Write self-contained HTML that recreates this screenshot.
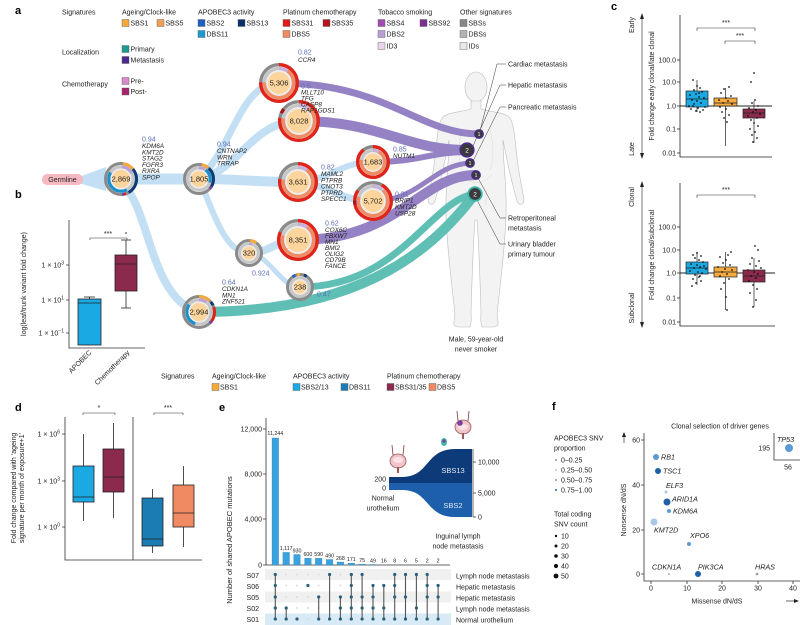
<!DOCTYPE html>
<html><head><meta charset="utf-8"><style>
html,body{margin:0;padding:0;background:#fff;}
svg{display:block;font-family:"Liberation Sans",sans-serif;}
.t{font-size:7px;fill:#222;}
.g{font-size:6.4px;fill:#222;font-style:italic;}
.v{font-size:7px;fill:#5b6cb8;}
.n{font-size:7.5px;fill:#222;}
.b{font-size:11px;font-weight:bold;fill:#000;}
.sw{stroke:#555;stroke-width:0.4;}
</style></head><body>
<svg width="800" height="625" viewBox="0 0 800 625" xmlns="http://www.w3.org/2000/svg">
<rect width="800" height="625" fill="#fff"/>

<!-- ===== Panel a legend ===== -->
<text class="b" x="15" y="14">a</text>
<text class="t" x="62" y="14.5">Signatures</text>
<text class="t" x="122" y="14.5">Ageing/Clock-like</text>
<rect class="sw" x="122" y="19.5" width="7" height="7" fill="#f7a83b"/><text class="t" x="130.5" y="25.5">SBS1</text>
<rect class="sw" x="157" y="19.5" width="7" height="7" fill="#ef9f59"/><text class="t" x="165.5" y="25.5">SBS5</text>
<text class="t" x="198" y="14.5">APOBEC3 activity</text>
<rect class="sw" x="198" y="19.5" width="7" height="7" fill="#1f5fbf"/><text class="t" x="206.5" y="25.5">SBS2</text>
<rect class="sw" x="238" y="19.5" width="7" height="7" fill="#0b2f6b"/><text class="t" x="246.5" y="25.5">SBS13</text>
<rect class="sw" x="198" y="30.5" width="7" height="7" fill="#1d9bd1"/><text class="t" x="206.5" y="36.5">DBS11</text>
<text class="t" x="283" y="14.5">Platinum chemotherapy</text>
<rect class="sw" x="283" y="19.5" width="7" height="7" fill="#e31a1c"/><text class="t" x="291.5" y="25.5">SBS31</text>
<rect class="sw" x="323" y="19.5" width="7" height="7" fill="#b5151f"/><text class="t" x="331.5" y="25.5">SBS35</text>
<rect class="sw" x="283" y="30.5" width="7" height="7" fill="#f08a62"/><text class="t" x="291.5" y="36.5">DBS5</text>
<text class="t" x="378" y="14.5">Tobacco smoking</text>
<rect class="sw" x="378" y="19.5" width="7" height="7" fill="#a24bb0"/><text class="t" x="386.5" y="25.5">SBS4</text>
<rect class="sw" x="420" y="19.5" width="7" height="7" fill="#7b2f8e"/><text class="t" x="428.5" y="25.5">SBS92</text>
<rect class="sw" x="378" y="30.5" width="7" height="7" fill="#b9a0d2"/><text class="t" x="386.5" y="36.5">DBS2</text>
<rect class="sw" x="378" y="42.5" width="7" height="7" fill="#ead6ea"/><text class="t" x="386.5" y="48.5">ID3</text>
<text class="t" x="460" y="14.5">Other signatures</text>
<rect class="sw" x="460" y="19.5" width="7" height="7" fill="#888"/><text class="t" x="468.5" y="25.5">SBSs</text>
<rect class="sw" x="460" y="30.5" width="7" height="7" fill="#b3b3b3"/><text class="t" x="468.5" y="36.5">DBSs</text>
<rect class="sw" x="460" y="42.5" width="7" height="7" fill="#e8e8e8"/><text class="t" x="468.5" y="48.5">IDs</text>
<text class="t" x="62" y="54.5">Localization</text>
<rect class="sw" x="122" y="45.5" width="7" height="7" fill="#1e9a8f"/><text class="t" x="130.5" y="51.5">Primary</text>
<rect class="sw" x="122" y="56.5" width="7" height="7" fill="#4b2a8a"/><text class="t" x="130.5" y="62.5">Metastasis</text>
<text class="t" x="62" y="86.5">Chemotherapy</text>
<rect class="sw" x="122" y="77.5" width="7" height="7" fill="#d68ac8"/><text class="t" x="130.5" y="83.5">Pre-</text>
<rect class="sw" x="122" y="88" width="7" height="7" fill="#a8246a"/><text class="t" x="130.5" y="94">Post-</text>

<!-- ===== Body silhouette ===== -->
<g fill="#f3f3f3" stroke="#bdbdbd" stroke-width="0.6">
<ellipse cx="476" cy="87" rx="11" ry="15"/>
<path d="M471,101 L471,109 C462,112 447,112 442,118 C437,126 437,145 434,165 C432,180 429,192 428,200 C428,205 433,206 435,201 C438,190 442,175 445,160 C447,150 448,145 449,140 C449,165 445,185 446,215 C447,250 452,285 455,315 C454,322 452,326 458,327 L470,327 C472,322 471,316 471,312 C472,280 473,245 475,220 L477,220 C479,245 480,280 481,312 C481,316 480,322 482,327 L494,327 C500,326 498,322 497,315 C500,285 505,250 506,215 C507,185 503,165 503,140 C504,145 505,150 507,160 C510,175 514,190 517,201 C519,206 524,205 524,200 C523,192 520,180 518,165 C515,145 515,126 510,118 C505,112 490,112 481,109 L481,101 Z"/>
</g>
<g fill="none" stroke="#d2d2d2" stroke-width="0.4">
<path d="M462,130 C458,145 458,160 462,170 M490,130 C494,145 494,160 490,170 M460,175 C470,185 482,185 492,175 M466,190 L466,205 M486,190 L486,205"/>
</g>

<!-- ===== Tree branches (light blue) ===== -->
<g fill="none" stroke="#c3dff3" stroke-linecap="butt">
<polygon points="80,176.5 80,183.5 106,191 106,167" fill="#c3dff3" stroke="none"/>
<path d="M121,179 L199,179" stroke-width="11"/>
<path d="M126,188 C150,215 152,300 199,312" stroke-width="8"/>
<path d="M199,179 C232,150 240,83 279,83" stroke-width="7"/>
<path d="M199,179 C240,170 252,121 299,121" stroke-width="8"/>
<path d="M199,179 C240,179 252,182 298,182" stroke-width="10"/>
<path d="M199,179 C215,215 225,253 249,253" stroke-width="6"/>
<path d="M298,182 C330,180 340,162 373,162" stroke-width="6"/>
<path d="M298,182 C330,185 340,201 373,201" stroke-width="7"/>
<path d="M249,253 C270,253 275,240 298,240" stroke-width="8"/>
<path d="M249,253 C270,255 280,287 300,287" stroke-width="5"/>
</g>

<!-- ===== Purple / teal bands ===== -->
<g fill="none" stroke-linecap="butt">
<path d="M279,83 C385,83 420,134 479,134" stroke="#9582c4" stroke-width="7"/>
<path d="M299,121 C380,121 405,150 467,150" stroke="#9582c4" stroke-width="10"/>
<path d="M373,162 C420,162 430,152 467,152" stroke="#9582c4" stroke-width="6"/>
<path d="M373,201 C420,201 432,165 470,163" stroke="#9582c4" stroke-width="5"/>
<path d="M298,240 C400,240 420,175 476,175" stroke="#9582c4" stroke-width="10"/>
<path d="M300,287 C400,287 430,200 475,194" stroke="#5fbfb5" stroke-width="7"/>
<path d="M199,312 C350,312 425,260 475,194" stroke="#5fbfb5" stroke-width="10"/>
</g>

<!-- Germline -->
<rect x="42" y="174" width="41" height="11" rx="5.5" fill="#f5b9c1"/>
<text class="t" x="62.5" y="182" text-anchor="middle">Germline</text>

<!-- ===== Donuts ===== -->
<!-- 2,869 -->
<g transform="translate(121,179) rotate(-90)" fill="none">
<circle r="15.5" stroke="#8a8a8a" stroke-width="3"/>
<circle r="15.5" stroke="#f5a93c" stroke-width="3" pathLength="100" stroke-dasharray="12 100" stroke-dashoffset="-2"/>
<circle r="15.5" stroke="#0e3a75" stroke-width="3" pathLength="100" stroke-dasharray="28 100" stroke-dashoffset="-14"/>
<circle r="15.5" stroke="#e2231a" stroke-width="3" pathLength="100" stroke-dasharray="2 100" stroke-dashoffset="-45"/>
<circle r="15.5" stroke="#7b3f9e" stroke-width="3" pathLength="100" stroke-dasharray="2 100" stroke-dashoffset="-47"/>
<circle r="12.2" stroke="#c6c6c6" stroke-width="3.2"/>
<circle r="12.2" stroke="#b9a1d3" stroke-width="3.2" pathLength="100" stroke-dasharray="16 100" stroke-dashoffset="-1"/>
<circle r="12.2" stroke="#1e90c9" stroke-width="3.2" pathLength="100" stroke-dasharray="42 100" stroke-dashoffset="-42"/>
<circle r="10.5" fill="#ececec" stroke="none"/>
<circle r="9" fill="#fdd59c" stroke="none"/>
</g>
<text class="n" x="121" y="181.7" text-anchor="middle">2,869</text>
<!-- 1,805 -->
<g transform="translate(199,179) rotate(-90)" fill="none">
<circle r="14.5" stroke="#8a8a8a" stroke-width="3"/>
<circle r="14.5" stroke="#f5a93c" stroke-width="3" pathLength="100" stroke-dasharray="8 100" stroke-dashoffset="-3"/>
<circle r="14.5" stroke="#0e3a75" stroke-width="3" pathLength="100" stroke-dasharray="22 100" stroke-dashoffset="-12"/>
<circle r="14.5" stroke="#7b3f9e" stroke-width="3" pathLength="100" stroke-dasharray="3 100" stroke-dashoffset="-34"/>
<circle r="11.2" stroke="#c6c6c6" stroke-width="3.2"/>
<circle r="11.2" stroke="#b9a1d3" stroke-width="3.2" pathLength="100" stroke-dasharray="8 100" stroke-dashoffset="0"/>
<circle r="11.2" stroke="#1e90c9" stroke-width="3.2" pathLength="100" stroke-dasharray="20 100" stroke-dashoffset="-10"/>
<circle r="9.5" fill="#ececec" stroke="none"/>
<circle r="8" fill="#fdd59c" stroke="none"/>
</g>
<text class="n" x="199" y="181.7" text-anchor="middle">1,805</text>
<!-- 2,994 -->
<g transform="translate(199,312) rotate(-90)" fill="none">
<circle r="15.5" stroke="#8a8a8a" stroke-width="3"/>
<circle r="15.5" stroke="#f5a93c" stroke-width="3" pathLength="100" stroke-dasharray="12 100" stroke-dashoffset="0"/>
<circle r="15.5" stroke="#0e3a75" stroke-width="3" pathLength="100" stroke-dasharray="4 100" stroke-dashoffset="-14"/>
<circle r="15.5" stroke="#e2231a" stroke-width="3" pathLength="100" stroke-dasharray="15 100" stroke-dashoffset="-20"/>
<circle r="15.5" stroke="#7b3f9e" stroke-width="3" pathLength="100" stroke-dasharray="3 100" stroke-dashoffset="-35"/>
<circle r="12.2" stroke="#c6c6c6" stroke-width="3.2"/>
<circle r="12.2" stroke="#b9a1d3" stroke-width="3.2" pathLength="100" stroke-dasharray="10 100" stroke-dashoffset="0"/>
<circle r="12.2" stroke="#1e90c9" stroke-width="3.2" pathLength="100" stroke-dasharray="30 100" stroke-dashoffset="-55"/>
<circle r="10.5" fill="#ececec" stroke="none"/>
<circle r="9" fill="#fdd59c" stroke="none"/>
</g>
<text class="n" x="199" y="314.7" text-anchor="middle">2,994</text>
<!-- 320 -->
<g transform="translate(249,253) rotate(-90)" fill="none">
<circle r="12.5" stroke="#8a8a8a" stroke-width="3"/>
<circle r="12.5" stroke="#f5a93c" stroke-width="3" pathLength="100" stroke-dasharray="9 100" stroke-dashoffset="-1"/>
<circle r="9.3" stroke="#c6c6c6" stroke-width="3"/>
<circle r="9.3" stroke="#b9a1d3" stroke-width="3" pathLength="100" stroke-dasharray="5 100" stroke-dashoffset="0"/>
<circle r="7.8" fill="#ececec" stroke="none"/>
<circle r="6.5" fill="#fdd59c" stroke="none"/>
</g>
<text class="n" x="249" y="255.7" text-anchor="middle">320</text>
<!-- 238 -->
<g transform="translate(300,287) rotate(-90)" fill="none">
<circle r="12.5" stroke="#8a8a8a" stroke-width="3"/>
<circle r="12.5" stroke="#1f5fbf" stroke-width="3" pathLength="100" stroke-dasharray="4 100" stroke-dashoffset="-90"/>
<circle r="12.5" stroke="#f5a93c" stroke-width="3" pathLength="100" stroke-dasharray="5 100" stroke-dashoffset="-96"/>
<circle r="12.5" stroke="#0e3a75" stroke-width="3" pathLength="100" stroke-dasharray="4 100" stroke-dashoffset="-5"/>
<circle r="9.3" stroke="#c6c6c6" stroke-width="3"/>
<circle r="7.8" fill="#ececec" stroke="none"/>
<circle r="6.5" fill="#fdd59c" stroke="none"/>
</g>
<text class="n" x="300" y="289.7" text-anchor="middle">238</text>

<!-- red nodes -->
<g fill="none">
<g transform="translate(279,83) rotate(-90)">
<circle r="18.3" stroke="#8a8a8a" stroke-width="3.4"/>
<circle r="18.3" stroke="#e2231a" stroke-width="3.4" pathLength="100" stroke-dasharray="76 100" stroke-dashoffset="0"/>
<circle r="14.6" stroke="#c6c6c6" stroke-width="3.4"/>
<circle r="14.6" stroke="#c7b0dc" stroke-width="3.4" pathLength="100" stroke-dasharray="10 100"/>
<circle r="14.6" stroke="#ef8c63" stroke-width="3.4" pathLength="100" stroke-dasharray="66 100" stroke-dashoffset="-10"/>
<circle r="12.8" fill="#ececec" stroke="none"/><circle r="11" fill="#fdd59c" stroke="none"/>
</g>
<g transform="translate(299,121) rotate(-90)">
<circle r="19.3" stroke="#8a8a8a" stroke-width="3.4"/>
<circle r="19.3" stroke="#e2231a" stroke-width="3.4" pathLength="100" stroke-dasharray="78 100" stroke-dashoffset="0"/>
<circle r="19.3" stroke="#a8121c" stroke-width="3.4" pathLength="100" stroke-dasharray="4 100" stroke-dashoffset="-82"/>
<circle r="15.6" stroke="#c6c6c6" stroke-width="3.4"/>
<circle r="15.6" stroke="#c7b0dc" stroke-width="3.4" pathLength="100" stroke-dasharray="10 100"/>
<circle r="15.6" stroke="#ef8c63" stroke-width="3.4" pathLength="100" stroke-dasharray="68 100" stroke-dashoffset="-10"/>
<circle r="13.8" fill="#ececec" stroke="none"/><circle r="12" fill="#fdd59c" stroke="none"/>
</g>
<g transform="translate(298,182) rotate(-90)">
<circle r="18.3" stroke="#8a8a8a" stroke-width="3.4"/>
<circle r="18.3" stroke="#e2231a" stroke-width="3.4" pathLength="100" stroke-dasharray="78 100" stroke-dashoffset="0"/>
<circle r="14.6" stroke="#c6c6c6" stroke-width="3.4"/>
<circle r="14.6" stroke="#c7b0dc" stroke-width="3.4" pathLength="100" stroke-dasharray="10 100"/>
<circle r="14.6" stroke="#ef8c63" stroke-width="3.4" pathLength="100" stroke-dasharray="68 100" stroke-dashoffset="-10"/>
<circle r="12.8" fill="#ececec" stroke="none"/><circle r="11" fill="#fdd59c" stroke="none"/>
</g>
<g transform="translate(373,162) rotate(-90)">
<circle r="15.3" stroke="#8a8a8a" stroke-width="3.4"/>
<circle r="15.3" stroke="#e2231a" stroke-width="3.4" pathLength="100" stroke-dasharray="90 100" stroke-dashoffset="0"/>
<circle r="11.6" stroke="#c6c6c6" stroke-width="3.4"/>
<circle r="11.6" stroke="#c7b0dc" stroke-width="3.4" pathLength="100" stroke-dasharray="8 100"/>
<circle r="11.6" stroke="#ef8c63" stroke-width="3.4" pathLength="100" stroke-dasharray="70 100" stroke-dashoffset="-8"/>
<circle r="9.8" fill="#ececec" stroke="none"/><circle r="8.5" fill="#fdd59c" stroke="none"/>
</g>
<g transform="translate(373,201) rotate(-90)">
<circle r="18.3" stroke="#8a8a8a" stroke-width="3.4"/>
<circle r="18.3" stroke="#e2231a" stroke-width="3.4" pathLength="100" stroke-dasharray="64 100" stroke-dashoffset="-8"/>
<circle r="18.3" stroke="#a8121c" stroke-width="3.4" pathLength="100" stroke-dasharray="4 100" stroke-dashoffset="-72"/>
<circle r="18.3" stroke="#e2231a" stroke-width="3.4" pathLength="100" stroke-dasharray="9 100" stroke-dashoffset="-76"/>
<circle r="14.6" stroke="#c6c6c6" stroke-width="3.4"/>
<circle r="14.6" stroke="#c7b0dc" stroke-width="3.4" pathLength="100" stroke-dasharray="10 100"/>
<circle r="14.6" stroke="#ef8c63" stroke-width="3.4" pathLength="100" stroke-dasharray="68 100" stroke-dashoffset="-12"/>
<circle r="12.8" fill="#ececec" stroke="none"/><circle r="11" fill="#fdd59c" stroke="none"/>
</g>
<g transform="translate(298,240) rotate(-90)">
<circle r="19.3" stroke="#8a8a8a" stroke-width="3.4"/>
<circle r="19.3" stroke="#e2231a" stroke-width="3.4" pathLength="100" stroke-dasharray="82 100" stroke-dashoffset="0"/>
<circle r="15.6" stroke="#c6c6c6" stroke-width="3.4"/>
<circle r="15.6" stroke="#c7b0dc" stroke-width="3.4" pathLength="100" stroke-dasharray="10 100"/>
<circle r="15.6" stroke="#ef8c63" stroke-width="3.4" pathLength="100" stroke-dasharray="70 100" stroke-dashoffset="-10"/>
<circle r="13.8" fill="#ececec" stroke="none"/><circle r="12" fill="#fdd59c" stroke="none"/>
</g>
</g>
<text class="n" x="279" y="85.7" text-anchor="middle">5,306</text>
<text class="n" x="299" y="123.7" text-anchor="middle">8,028</text>
<text class="n" x="298" y="184.7" text-anchor="middle">3,631</text>
<text class="n" x="373" y="164.7" text-anchor="middle">1,683</text>
<text class="n" x="373" y="203.7" text-anchor="middle">5,702</text>
<text class="n" x="298" y="242.7" text-anchor="middle">8,351</text>

<!-- gene labels -->
<text class="v" x="142" y="141.5">0.94</text>
<text class="g" x="142" y="148">KDM6A</text><text class="g" x="142" y="154.3">KMT2D</text><text class="g" x="142" y="160.6">STAG2</text><text class="g" x="142" y="166.9">FGFR3</text><text class="g" x="142" y="173.2">RXRA</text><text class="g" x="142" y="179.5">SPOP</text>
<text class="v" x="217" y="146.5">0.94</text>
<text class="g" x="217" y="153">CNTNAP2</text><text class="g" x="217" y="159.3">WRN</text><text class="g" x="217" y="165.6">TRRAP</text>
<text class="v" x="298" y="54.5">0.82</text><text class="g" x="298" y="62">CCR4</text>
<text class="v" x="301" y="88.5">0.5</text>
<text class="g" x="301" y="94.5">MLLT10</text><text class="g" x="301" y="100.5">TFG</text><text class="g" x="301" y="106.5">CASP8</text><text class="g" x="301" y="112.5">RAP1GDS1</text>
<text class="v" x="321" y="169.5">0.82</text>
<text class="g" x="321" y="176">MAML2</text><text class="g" x="321" y="182.3">PTPRB</text><text class="g" x="321" y="188.6">CNOT3</text><text class="g" x="321" y="194.9">PTPRD</text><text class="g" x="321" y="201.2">SPECC1</text>
<text class="v" x="393" y="151.5">0.85</text><text class="g" x="393" y="158">NUTM1</text>
<text class="v" x="395" y="196.5">0.31</text>
<text class="g" x="395" y="202.5">BRIP1</text><text class="g" x="395" y="209">KMT2D</text><text class="g" x="395" y="215.5">USP28</text>
<text class="v" x="325" y="225.5">0.62</text>
<text class="g" x="325" y="232">COX6C</text><text class="g" x="325" y="238">FBXW7</text><text class="g" x="325" y="244">MN1</text><text class="g" x="325" y="250">BMI2</text><text class="g" x="325" y="256">OLIG2</text><text class="g" x="325" y="262">CD79B</text><text class="g" x="325" y="268">FANCE</text>
<text class="v" x="252" y="275.5">0.924</text>
<text class="v" x="317" y="296.5">0.47</text>
<text class="v" x="222" y="284.5">0.64</text>
<text class="g" x="222" y="291">CDKN1A</text><text class="g" x="222" y="297.3">MN1</text><text class="g" x="222" y="303.6">ZNF521</text>

<!-- body dots & connectors -->
<g fill="none" stroke="#333" stroke-width="0.5">
<path d="M506,64 L497,64 L480,131"/>
<path d="M506,85 L500,85 L473,146"/>
<path d="M506,107 L500,107 L473,161"/>
<path d="M506,218 L500,218 L478,178"/>
<path d="M506,244 L500,244 L477,200"/>
</g>
<g>
<circle cx="479" cy="134" r="4.2" fill="#3a3a3a" stroke="#4b2a8a" stroke-width="1.4"/>
<circle cx="467" cy="150" r="6.8" fill="#3a3a3a" stroke="#4b2a8a" stroke-width="1.6"/>
<circle cx="470" cy="163" r="4.2" fill="#3a3a3a" stroke="#4b2a8a" stroke-width="1.4"/>
<circle cx="476" cy="175" r="4.2" fill="#3a3a3a" stroke="#4b2a8a" stroke-width="1.4"/>
<circle cx="475" cy="194" r="6.8" fill="#3a3a3a" stroke="#3cb5aa" stroke-width="1.8"/>
</g>
<g font-size="5" fill="#fff" text-anchor="middle">
<text x="479" y="135.8">1</text><text x="467" y="152.3" font-size="6.5">2</text><text x="470" y="164.8">1</text><text x="476" y="176.8">1</text><text x="475" y="196.3" font-size="6.5">2</text>
</g>
<text class="t" x="508" y="66.5">Cardiac metastasis</text>
<text class="t" x="508" y="87.5">Hepatic metastasis</text>
<text class="t" x="508" y="109.5">Pancreatic metastasis</text>
<text class="t" x="508" y="220.5">Retroperitoneal</text>
<text class="t" x="508" y="230.5">metastasis</text>
<text class="t" x="508" y="246.5">Urinary bladder</text>
<text class="t" x="508" y="256.5">primary tumour</text>
<text class="t" x="476" y="341.5" text-anchor="middle">Male, 59-year-old</text>
<text class="t" x="476" y="351.5" text-anchor="middle">never smoker</text>

<!-- ===== Panel b ===== -->
<text class="b" x="15" y="198">b</text>
<g stroke="#333" stroke-width="0.8" fill="none">
<path d="M69,220 L69,348 L145,348"/>
<path d="M66,265 L69,265 M66,300 L69,300 M66,333 L69,333"/>
</g>
<text class="t" x="64" y="267.5" text-anchor="end">1 × 10<tspan font-size="5" dy="-3">3</tspan></text>
<text class="t" x="64" y="302.5" text-anchor="end">1 × 10<tspan font-size="5" dy="-3">1</tspan></text>
<text class="t" x="64" y="335.5" text-anchor="end">1 × 10<tspan font-size="5" dy="-3">−1</tspan></text>
<text class="t" transform="translate(26,284) rotate(-90)" text-anchor="middle">log(leaf/trunk variant fold change)</text>
<g stroke="#222" stroke-width="0.8">
<rect x="78" y="299" width="23" height="46" fill="#1ba9e3"/>
<line x1="78" y1="303" x2="101" y2="303"/>
<line x1="89.5" y1="297" x2="89.5" y2="299"/>
<line x1="84" y1="297" x2="95" y2="297"/>
<line x1="126" y1="240" x2="126" y2="255"/><line x1="121" y1="240" x2="131" y2="240"/>
<line x1="126" y1="291" x2="126" y2="308"/><line x1="121" y1="308" x2="131" y2="308"/>
<rect x="115" y="255" width="22" height="36" fill="#8c2a4e"/>
<line x1="115" y1="264" x2="137" y2="264"/>
</g>
<circle cx="126" cy="233" r="0.8" fill="#222"/>
<path d="M90,240 L90,238 L127,238 L127,240" fill="none" stroke="#333" stroke-width="0.6"/>
<text class="t" x="108" y="236" text-anchor="middle">***</text>
<text class="t" transform="translate(92,353) rotate(-45)" text-anchor="end">APOBEC</text>
<text class="t" transform="translate(130,353) rotate(-45)" text-anchor="end">Chemotherapy</text>

<!-- middle legend -->
<text class="t" x="161" y="378.5">Signatures</text>
<text class="t" x="212" y="378.5">Ageing/Clock-like</text>
<rect class="sw" x="212" y="383.5" width="7" height="7" fill="#f7a83b"/><text class="t" x="220" y="389.5">SBS1</text>
<text class="t" x="293" y="378.5">APOBEC3 activity</text>
<rect class="sw" x="293" y="383.5" width="7" height="7" fill="#1ba9e3"/><text class="t" x="301" y="389.5">SBS2/13</text>
<rect class="sw" x="341" y="383.5" width="7" height="7" fill="#1b7bb3"/><text class="t" x="349" y="389.5">DBS11</text>
<text class="t" x="387" y="378.5">Platinum chemotherapy</text>
<rect class="sw" x="387" y="383.5" width="7" height="7" fill="#8c2a4e"/><text class="t" x="395" y="389.5">SBS31/35</text>
<rect class="sw" x="429" y="383.5" width="7" height="7" fill="#f08a62"/><text class="t" x="437" y="389.5">DBS5</text>

<!-- ===== Panel c ===== -->
<text class="b" x="611" y="10">c</text>
<g stroke="#222" stroke-width="0.8" fill="none">
<path d="M680,15 L680,157 L772,157"/>
<path d="M677,60 L680,60 M677,82 L680,82 M677,106 L680,106 M677,129 L680,129 M677,153 L680,153"/>
<path d="M680,106 L772,106" stroke-width="0.9"/>
<path d="M680,183 L680,326 L775,326"/>
<path d="M677,227 L680,227 M677,250 L680,250 M677,273 L680,273 M677,298 L680,298 M677,322 L680,322"/>
<path d="M680,273 L775,273" stroke-width="0.9"/>
<path d="M642,18 L642,154 M642,186 L642,323" stroke-width="0.6"/>
</g>
<path d="M642,13 L640,19 L644,19 Z M642,159 L640,153 L644,153 Z M642,181 L640,187 L644,187 Z M642,328 L640,322 L644,322 Z" fill="#222"/>
<g class="t" text-anchor="end">
<text x="676" y="62.5">100.0</text><text x="676" y="84.5">10.0</text><text x="676" y="108.5">1.0</text><text x="676" y="131.5">0.1</text><text x="676" y="155.5">0.01</text>
<text x="676" y="229.5">100.0</text><text x="676" y="252.5">10.0</text><text x="676" y="275.5">1.0</text><text x="676" y="300.5">0.1</text><text x="676" y="324.5">0.01</text>
</g>
<text class="t" transform="translate(654,86) rotate(-90)" text-anchor="middle">Fold change early clonal/late clonal</text>
<text class="t" transform="translate(654,255) rotate(-90)" text-anchor="middle">Fold change clonal/subclonal</text>
<text class="t" transform="translate(634,25) rotate(-90)" text-anchor="middle">Early</text>
<text class="t" transform="translate(634,149) rotate(-90)" text-anchor="middle">Late</text>
<text class="t" transform="translate(634,197) rotate(-90)" text-anchor="middle">Clonal</text>
<text class="t" transform="translate(634,308) rotate(-90)" text-anchor="middle">Subclonal</text>
<g stroke="#222" stroke-width="0.7">
<line x1="697" y1="80" x2="697" y2="91"/><line x1="697" y1="107" x2="697" y2="112"/>
<rect x="686" y="91" width="22" height="16" fill="#1ba9e3"/><line x1="686" y1="99" x2="708" y2="99"/>
<line x1="725.5" y1="88" x2="725.5" y2="98"/><line x1="725.5" y1="106" x2="725.5" y2="146"/>
<rect x="714" y="98" width="23" height="8" fill="#f5ab3e"/><line x1="714" y1="103" x2="737" y2="103"/>
<line x1="754" y1="101" x2="754" y2="109"/><line x1="754" y1="118" x2="754" y2="143"/>
<rect x="743" y="109" width="22" height="9" fill="#8c2a4e"/><line x1="743" y1="113" x2="765" y2="113"/>
<line x1="697" y1="252" x2="697" y2="262"/><line x1="697" y1="274" x2="697" y2="285"/>
<rect x="686" y="262" width="22" height="12" fill="#1ba9e3"/><line x1="686" y1="268" x2="708" y2="268"/>
<line x1="725.5" y1="252" x2="725.5" y2="267"/><line x1="725.5" y1="277" x2="725.5" y2="310"/>
<rect x="714" y="267" width="23" height="10" fill="#f5ab3e"/><line x1="714" y1="272" x2="737" y2="272"/>
<line x1="754" y1="258" x2="754" y2="270"/><line x1="754" y1="282" x2="754" y2="307"/>
<rect x="743" y="270" width="22" height="12" fill="#8c2a4e"/><line x1="743" y1="276" x2="765" y2="276"/>
</g>
<g fill="none" stroke="#333" stroke-width="0.6">
<path d="M697,31 L697,28 L755,28 L755,31"/>
<path d="M725,44 L725,41 L755,41 L755,44"/>
<path d="M697,198 L697,195 L755,195 L755,198"/>
</g>
<text class="t" x="726" y="25" text-anchor="middle">***</text>
<text class="t" x="740" y="38" text-anchor="middle">***</text>
<text class="t" x="726" y="192" text-anchor="middle">***</text>
<g fill="#111">
<circle cx="693" cy="80" r="0.9"/><circle cx="697" cy="86" r="0.9"/><circle cx="700" cy="88" r="0.9"/><circle cx="694" cy="90" r="0.9"/><circle cx="702" cy="92" r="0.9"/><circle cx="696" cy="94" r="0.9"/><circle cx="690" cy="95" r="0.9"/><circle cx="699" cy="97" r="0.9"/><circle cx="704" cy="98" r="0.9"/><circle cx="692" cy="100" r="0.9"/><circle cx="697" cy="101" r="0.9"/><circle cx="701" cy="103" r="0.9"/><circle cx="694" cy="104" r="0.9"/><circle cx="689" cy="106" r="0.9"/><circle cx="705" cy="107" r="0.9"/><circle cx="698" cy="108" r="0.9"/><circle cx="691" cy="109" r="0.9"/><circle cx="703" cy="110" r="0.9"/><circle cx="696" cy="111" r="0.9"/><circle cx="700" cy="112" r="0.9"/><circle cx="693" cy="106" r="0.9"/><circle cx="699" cy="93" r="0.9"/>
<circle cx="729" cy="87" r="0.9"/><circle cx="724" cy="89" r="0.9"/><circle cx="721" cy="93" r="0.9"/><circle cx="731" cy="96" r="0.9"/><circle cx="726" cy="98" r="0.9"/><circle cx="719" cy="100" r="0.9"/><circle cx="728" cy="101" r="0.9"/><circle cx="723" cy="103" r="0.9"/><circle cx="732" cy="104" r="0.9"/><circle cx="720" cy="107" r="0.9"/><circle cx="726" cy="109" r="0.9"/><circle cx="722" cy="112" r="0.9"/><circle cx="729" cy="115" r="0.9"/><circle cx="724" cy="118" r="0.9"/><circle cx="727" cy="122" r="0.9"/>
<circle cx="754" cy="73" r="0.9"/><circle cx="751" cy="82" r="0.9"/><circle cx="755" cy="100" r="0.9"/><circle cx="752" cy="103" r="0.9"/><circle cx="758" cy="106" r="0.9"/><circle cx="749" cy="108" r="0.9"/><circle cx="756" cy="110" r="0.9"/><circle cx="753" cy="112" r="0.9"/><circle cx="760" cy="114" r="0.9"/><circle cx="748" cy="116" r="0.9"/><circle cx="757" cy="118" r="0.9"/><circle cx="751" cy="120" r="0.9"/><circle cx="754" cy="123" r="0.9"/><circle cx="758" cy="126" r="0.9"/><circle cx="750" cy="129" r="0.9"/><circle cx="755" cy="132" r="0.9"/><circle cx="752" cy="135" r="0.9"/><circle cx="757" cy="138" r="0.9"/><circle cx="753" cy="142" r="0.9"/>
<circle cx="697" cy="253" r="0.9"/><circle cx="693" cy="255" r="0.9"/><circle cx="701" cy="256" r="0.9"/><circle cx="695" cy="258" r="0.9"/><circle cx="699" cy="260" r="0.9"/><circle cx="703" cy="262" r="0.9"/><circle cx="691" cy="264" r="0.9"/><circle cx="697" cy="265" r="0.9"/><circle cx="700" cy="267" r="0.9"/><circle cx="694" cy="268" r="0.9"/><circle cx="706" cy="269" r="0.9"/><circle cx="690" cy="271" r="0.9"/><circle cx="698" cy="272" r="0.9"/><circle cx="702" cy="273" r="0.9"/><circle cx="695" cy="275" r="0.9"/><circle cx="699" cy="277" r="0.9"/><circle cx="693" cy="279" r="0.9"/><circle cx="701" cy="281" r="0.9"/><circle cx="696" cy="283" r="0.9"/><circle cx="692" cy="286" r="0.9"/><circle cx="700" cy="276" r="0.9"/><circle cx="704" cy="266" r="0.9"/>
<circle cx="731" cy="252" r="0.9"/><circle cx="728" cy="255" r="0.9"/><circle cx="720" cy="257" r="0.9"/><circle cx="726" cy="260" r="0.9"/><circle cx="723" cy="263" r="0.9"/><circle cx="730" cy="265" r="0.9"/><circle cx="718" cy="267" r="0.9"/><circle cx="725" cy="269" r="0.9"/><circle cx="732" cy="270" r="0.9"/><circle cx="722" cy="272" r="0.9"/><circle cx="727" cy="274" r="0.9"/><circle cx="720" cy="276" r="0.9"/><circle cx="729" cy="279" r="0.9"/><circle cx="724" cy="283" r="0.9"/><circle cx="721" cy="289" r="0.9"/><circle cx="726" cy="297" r="0.9"/><circle cx="727" cy="310" r="0.9"/>
<circle cx="755" cy="246" r="0.9"/><circle cx="758" cy="250" r="0.9"/><circle cx="752" cy="258" r="0.9"/><circle cx="759" cy="261" r="0.9"/><circle cx="750" cy="264" r="0.9"/><circle cx="756" cy="266" r="0.9"/><circle cx="761" cy="268" r="0.9"/><circle cx="748" cy="270" r="0.9"/><circle cx="754" cy="272" r="0.9"/><circle cx="758" cy="274" r="0.9"/><circle cx="751" cy="276" r="0.9"/><circle cx="756" cy="278" r="0.9"/><circle cx="749" cy="281" r="0.9"/><circle cx="753" cy="285" r="0.9"/><circle cx="757" cy="289" r="0.9"/><circle cx="750" cy="293" r="0.9"/><circle cx="756" cy="300" r="0.9"/><circle cx="753" cy="307" r="0.9"/>
</g>

<!-- ===== Panel d ===== -->
<text class="b" x="15" y="411">d</text>
<g stroke="#333" stroke-width="0.8" fill="none">
<path d="M65,417 L65,560 L202,560"/>
<path d="M133,417 L133,560"/>
<path d="M62,434 L65,434 M62,481 L65,481 M62,527 L65,527"/>
</g>
<text class="t" x="60" y="436.5" text-anchor="end">1 × 10<tspan font-size="5" dy="-3">6</tspan></text>
<text class="t" x="60" y="483.5" text-anchor="end">1 × 10<tspan font-size="5" dy="-3">3</tspan></text>
<text class="t" x="60" y="529.5" text-anchor="end">1 × 10<tspan font-size="5" dy="-3">0</tspan></text>
<text class="t" transform="translate(16,488) rotate(-90)" text-anchor="middle">Fold change compared with ‘ageing</text>
<text class="t" transform="translate(24,488) rotate(-90)" text-anchor="middle">signature per month of exposure+1’</text>
<g stroke="#222" stroke-width="0.8">
<line x1="83.5" y1="434" x2="83.5" y2="521"/>
<rect x="73" y="466" width="21" height="36" fill="#1ba9e3"/><line x1="73" y1="497" x2="94" y2="497"/>
<line x1="113.5" y1="423" x2="113.5" y2="518"/>
<rect x="103" y="449" width="21" height="43" fill="#8c2a4e"/><line x1="103" y1="477" x2="124" y2="477"/>
<line x1="152.5" y1="489" x2="152.5" y2="553"/>
<rect x="142" y="498" width="21" height="48" fill="#1b7bb3"/><line x1="142" y1="539" x2="163" y2="539"/>
<line x1="183.5" y1="466" x2="183.5" y2="547"/>
<rect x="173" y="485" width="21" height="42" fill="#f08a62"/><line x1="173" y1="513" x2="194" y2="513"/>
</g>
<g fill="none" stroke="#333" stroke-width="0.6">
<path d="M83,415 L83,413 L115,413 L115,415"/>
<path d="M154,415 L154,413 L183,413 L183,415"/>
</g>
<text class="t" x="99" y="410" text-anchor="middle">*</text>
<text class="t" x="168" y="410" text-anchor="middle">***</text>

<!-- ===== Panel e ===== -->
<text class="b" x="219" y="411">e</text>
<!-- matrix bands -->
<rect x="265" y="569" width="186" height="11" fill="#f0f0f0"/>
<rect x="265" y="591.5" width="186" height="11" fill="#f0f0f0"/>
<rect x="265" y="613.5" width="186" height="11.5" fill="#d7eaf6"/>
<g stroke="#333" stroke-width="0.8" fill="none">
<path d="M266,418 L266,565 L450,565"/>
<path d="M263,429 L266,429 M263,474 L266,474 M263,519 L266,519 M263,565 L266,565"/>
</g>
<g class="t" text-anchor="end">
<text x="262" y="431.5">12,000</text><text x="262" y="476.5">8,000</text><text x="262" y="521.5">4,000</text><text x="262" y="567.5">0</text>
<text x="259" y="578">S07</text><text x="259" y="589">S06</text><text x="259" y="600">S05</text><text x="259" y="611">S02</text><text x="259" y="622">S01</text>
</g>
<text transform="translate(232,540) rotate(-90)" text-anchor="middle" font-size="7.5" fill="#222">Number of shared APOBEC mutations</text>
<g fill="#3aa2dc" stroke="#2a7fb0" stroke-width="0.3">
<rect x="272" y="438" width="6.6" height="127"/>
<rect x="282.9" y="552.4" width="6.6" height="12.6"/>
<rect x="293.7" y="554.5" width="6.6" height="10.5"/>
<rect x="304.6" y="558.2" width="6.6" height="6.8"/>
<rect x="315.4" y="558.3" width="6.6" height="6.7"/>
<rect x="326.3" y="559.5" width="6.6" height="5.5"/>
<rect x="337.1" y="562" width="6.6" height="3"/>
<rect x="348" y="563.1" width="6.6" height="1.9"/>
<rect x="358.8" y="564.2" width="6.6" height="0.8"/>
<rect x="369.7" y="564.5" width="6.6" height="0.5"/>
</g>
<g font-size="5.3" fill="#222" text-anchor="middle">
<text x="275.3" y="435">11,244</text><text x="286.2" y="550">1,117</text><text x="297" y="552.5">930</text><text x="307.9" y="556">600</text><text x="318.7" y="556">590</text><text x="329.6" y="557.5">490</text><text x="340.4" y="560">268</text><text x="351.3" y="561">171</text><text x="362.1" y="562">75</text><text x="373" y="562.5">49</text><text x="383.8" y="562.5">16</text><text x="394.7" y="562.5">8</text><text x="405.5" y="562.5">6</text><text x="416.4" y="562.5">5</text><text x="427.2" y="562.5">2</text><text x="438.1" y="562.5">2</text>
</g>
<!-- faint inactive dots -->
<g fill="#dcdcdc">
<circle cx="286.2" cy="574.5" r="1"/><circle cx="297" cy="574.5" r="1"/><circle cx="307.9" cy="574.5" r="1"/><circle cx="318.7" cy="574.5" r="1"/><circle cx="340.4" cy="574.5" r="1"/>
<circle cx="286.2" cy="585.5" r="1"/><circle cx="297" cy="585.5" r="1"/><circle cx="318.7" cy="585.5" r="1"/><circle cx="340.4" cy="585.5" r="1"/>
<circle cx="286.2" cy="597" r="1"/><circle cx="297" cy="597" r="1"/><circle cx="307.9" cy="597" r="1"/>
<circle cx="297" cy="608" r="1"/><circle cx="307.9" cy="608" r="1"/><circle cx="318.7" cy="608" r="1"/>
<circle cx="307.9" cy="619" r="1"/>
</g>
<g stroke="#555" stroke-width="1.1">
<line x1="275.3" y1="574.5" x2="275.3" y2="619"/>
<line x1="286.2" y1="608" x2="286.2" y2="619"/>
<line x1="318.7" y1="597" x2="318.7" y2="619"/>
<line x1="329.6" y1="574.5" x2="329.6" y2="619"/>
<line x1="340.4" y1="597" x2="340.4" y2="619"/>
<line x1="351.3" y1="574.5" x2="351.3" y2="619"/>
<line x1="362.1" y1="574.5" x2="362.1" y2="619"/>
<line x1="373" y1="585.5" x2="373" y2="619"/>
<line x1="383.8" y1="585.5" x2="383.8" y2="619"/>
<line x1="394.7" y1="574.5" x2="394.7" y2="619"/>
<line x1="405.5" y1="574.5" x2="405.5" y2="619"/>
<line x1="416.4" y1="574.5" x2="416.4" y2="619"/>
<line x1="427.2" y1="574.5" x2="427.2" y2="619"/>
<line x1="438.1" y1="585.5" x2="438.1" y2="619"/>
</g>
<g fill="#2d5f7a">
<circle cx="275.3" cy="574.5" r="1.6"/><circle cx="275.3" cy="585.5" r="1.6"/><circle cx="275.3" cy="597" r="1.6"/><circle cx="275.3" cy="608" r="1.6"/><circle cx="275.3" cy="619" r="1.6"/>
<circle cx="286.2" cy="608" r="1.6"/><circle cx="286.2" cy="619" r="1.6"/>
<circle cx="297" cy="619" r="1.6"/>
<circle cx="307.9" cy="585.5" r="1.6"/>
<circle cx="318.7" cy="597" r="1.6"/><circle cx="318.7" cy="619" r="1.6"/>
<circle cx="329.6" cy="574.5" r="1.6"/><circle cx="329.6" cy="619" r="1.6"/>
<circle cx="340.4" cy="597" r="1.6"/><circle cx="340.4" cy="608" r="1.6"/><circle cx="340.4" cy="619" r="1.6"/>
<circle cx="351.3" cy="574.5" r="1.6"/><circle cx="351.3" cy="585.5" r="1.6"/><circle cx="351.3" cy="597" r="1.6"/><circle cx="351.3" cy="608" r="1.6"/><circle cx="351.3" cy="619" r="1.6"/>
<circle cx="362.1" cy="574.5" r="1.6"/><circle cx="362.1" cy="597" r="1.6"/><circle cx="362.1" cy="608" r="1.6"/><circle cx="362.1" cy="619" r="1.6"/>
<circle cx="373" cy="585.5" r="1.6"/><circle cx="373" cy="597" r="1.6"/><circle cx="373" cy="608" r="1.6"/><circle cx="373" cy="619" r="1.6"/>
<circle cx="383.8" cy="585.5" r="1.6"/><circle cx="383.8" cy="608" r="1.6"/><circle cx="383.8" cy="619" r="1.6"/>
<circle cx="394.7" cy="574.5" r="1.6"/><circle cx="394.7" cy="585.5" r="1.6"/><circle cx="394.7" cy="597" r="1.6"/><circle cx="394.7" cy="619" r="1.6"/>
<circle cx="405.5" cy="574.5" r="1.6"/><circle cx="405.5" cy="597" r="1.6"/><circle cx="405.5" cy="619" r="1.6"/>
<circle cx="416.4" cy="574.5" r="1.6"/><circle cx="416.4" cy="608" r="1.6"/><circle cx="416.4" cy="619" r="1.6"/>
<circle cx="427.2" cy="574.5" r="1.6"/><circle cx="427.2" cy="585.5" r="1.6"/><circle cx="427.2" cy="597" r="1.6"/><circle cx="427.2" cy="619" r="1.6"/>
<circle cx="438.1" cy="585.5" r="1.6"/><circle cx="438.1" cy="597" r="1.6"/><circle cx="438.1" cy="619" r="1.6"/>
</g>
<g class="t">
<text x="456" y="578.5">Lymph node metastasis</text>
<text x="456" y="589.5">Hepatic metastasis</text>
<text x="456" y="600.5">Hepatic metastasis</text>
<text x="456" y="611.5">Lymph node metastasis</text>
<text x="456" y="622.5">Normal urothelium</text>
</g>
<!-- stream -->
<path d="M389,477 L402,477 C430,477 425,449 455,449 L472,449 L472,483 L389,483 Z" fill="#0d3a78"/>
<path d="M389,483 L472,483 L472,517 L455,517 C425,517 430,490 402,490 L389,490 Z" fill="#1d5faa"/>
<text x="453" y="473" font-size="7.5" fill="#dfe8f5" text-anchor="middle">SBS13</text>
<text x="453" y="508" font-size="7.5" fill="#dfe8f5" text-anchor="middle">SBS2</text>
<g stroke="#333" stroke-width="0.7" fill="none"><path d="M473,449 L473,517 M473,462 L476,462 M473,493 L476,493 M473,517 L476,517"/></g>
<g class="t">
<text x="478" y="464.5">10,000</text><text x="478" y="495.5">5,000</text><text x="478" y="519.5">0</text>
<text x="386" y="481.5" text-anchor="end">200</text><text x="386" y="490.5" text-anchor="end">0</text>
<text x="383" y="500.5" text-anchor="middle">Normal</text><text x="383" y="510.5" text-anchor="middle">urothelium</text>
<text x="458" y="538.5" text-anchor="middle">Inguinal lymph</text><text x="458" y="548.5" text-anchor="middle">node metastasis</text>
</g>
<!-- bladders -->
<g stroke="#8b4a4a" stroke-width="0.9" fill="none">
<path d="M392,445 L393,455 M404,445 L403,455"/>
<path d="M457,411 L458,421 M469,411 L468,421"/>
</g>
<ellipse cx="398" cy="461" rx="8" ry="7" fill="#f3c3ca" stroke="#9b5a5a" stroke-width="0.8"/>
<ellipse cx="398" cy="460" rx="5" ry="3" fill="#fbe3e6"/>
<rect x="397" y="467" width="2" height="6" fill="#9b5a5a"/>
<ellipse cx="463" cy="427" rx="8" ry="7" fill="#f3c3ca" stroke="#9b5a5a" stroke-width="0.8"/>
<ellipse cx="463" cy="427" rx="5" ry="3" fill="#fbe3e6"/>
<rect x="462" y="433" width="2" height="6" fill="#9b5a5a"/>
<circle cx="460" cy="423" r="2.8" fill="#7b3fa0"/>
<ellipse cx="444" cy="442" rx="3" ry="4" fill="#3fb6a8"/>
<circle cx="444" cy="441" r="1.6" fill="#7b3fa0"/>

<!-- ===== Panel f ===== -->
<text class="b" x="552" y="410">f</text>
<text class="t" x="720" y="428.5" text-anchor="middle">Clonal selection of driver genes</text>
<g class="t">
<text x="554" y="440.5">APOBEC3 SNV</text><text x="554" y="450.5">proportion</text>
<text x="561" y="462.5">0–0.25</text><text x="561" y="472.5">0.25–0.50</text><text x="561" y="482.5">0.50–0.75</text><text x="561" y="492.5">0.75–1.00</text>
<text x="554" y="516.5">Total coding</text><text x="554" y="526.5">SNV count</text>
<text x="561" y="538.5">10</text><text x="561" y="548.5">20</text><text x="561" y="558.5">30</text><text x="561" y="568.5">40</text><text x="561" y="578.5">50</text>
</g>
<circle cx="556" cy="460" r="1" fill="#9a9a9a"/><circle cx="556" cy="470" r="1" fill="#a9c8e8"/><circle cx="556" cy="480" r="1" fill="#5b9bd5"/><circle cx="556" cy="490" r="1" fill="#1f5fa8"/>
<g fill="#111"><circle cx="556" cy="536" r="1.2"/><circle cx="556" cy="546" r="1.5"/><circle cx="556" cy="556" r="1.8"/><circle cx="556" cy="566" r="2.1"/><circle cx="556" cy="576" r="2.4"/></g>
<g stroke="#333" stroke-width="0.8" fill="none">
<path d="M644,433 L644,581 L800,581"/>
<path d="M641,440 L644,440 M641,485 L644,485 M641,530 L644,530 M641,574 L644,574"/>
<path d="M651,581 L651,584 M687,581 L687,584 M722,581 L722,584 M758,581 L758,584 M793,581 L793,584"/>
<path d="M774,433 L774,460 L800,460"/>
<path d="M624,443 L624,436 M786,601 L795,601" stroke-width="0.7"/>
</g>
<path d="M624,432 L622,437 L626,437 Z M799,601 L794,599 L794,603 Z" fill="#222"/>
<g class="t">
<text x="640" y="442.5" text-anchor="end">60</text><text x="640" y="487.5" text-anchor="end">40</text><text x="640" y="532.5" text-anchor="end">20</text><text x="640" y="576.5" text-anchor="end">0</text>
<text x="651" y="590.5" text-anchor="middle">0</text><text x="687" y="590.5" text-anchor="middle">10</text><text x="722" y="590.5" text-anchor="middle">20</text><text x="758" y="590.5" text-anchor="middle">30</text><text x="793" y="590.5" text-anchor="middle">40</text>
<text x="717" y="603.5" text-anchor="middle">Missense dN/dS</text>
<text x="770" y="450.5" text-anchor="end">195</text><text x="788" y="469.5" text-anchor="middle">56</text>
</g>
<text class="t" transform="translate(626,510) rotate(-90)" text-anchor="middle">Nonsense dN/dS</text>
<circle cx="656" cy="457" r="3" fill="#5b9bd5"/>
<circle cx="658" cy="471" r="3" fill="#1f5fa8"/>
<circle cx="666" cy="492" r="1.5" fill="#a9c8e8"/>
<circle cx="667" cy="502" r="3.5" fill="#1f5fa8"/>
<circle cx="669" cy="511" r="2" fill="#5b9bd5"/>
<circle cx="654" cy="522" r="3.5" fill="#a9c8e8"/>
<circle cx="689" cy="544" r="2" fill="#5b9bd5"/>
<circle cx="669" cy="574" r="0.9" fill="#9a9a9a"/>
<circle cx="698" cy="574" r="3" fill="#1f5fa8"/>
<circle cx="757" cy="574" r="1.3" fill="#9a9a9a"/>
<circle cx="789" cy="448" r="4" fill="#5b9bd5"/>
<g class="g" font-size="7.2">
<text x="661" y="459.5" font-size="7.2">RB1</text>
<text x="663" y="473.5" font-size="7.2">TSC1</text>
<text x="666" y="488" font-size="7.2">ELF3</text>
<text x="672" y="501.5" font-size="7.2">ARID1A</text>
<text x="673" y="513.5" font-size="7.2">KDM6A</text>
<text x="654" y="532.5" font-size="7.2">KMT2D</text>
<text x="690" y="538" font-size="7.2">XPO6</text>
<text x="652" y="569.5" font-size="7.2">CDKN1A</text>
<text x="698" y="569.5" font-size="7.2">PIK3CA</text>
<text x="755" y="569.5" font-size="7.2">HRAS</text>
<text x="777" y="442" font-size="7.2">TP53</text>
</g>
</svg>
</body></html>
